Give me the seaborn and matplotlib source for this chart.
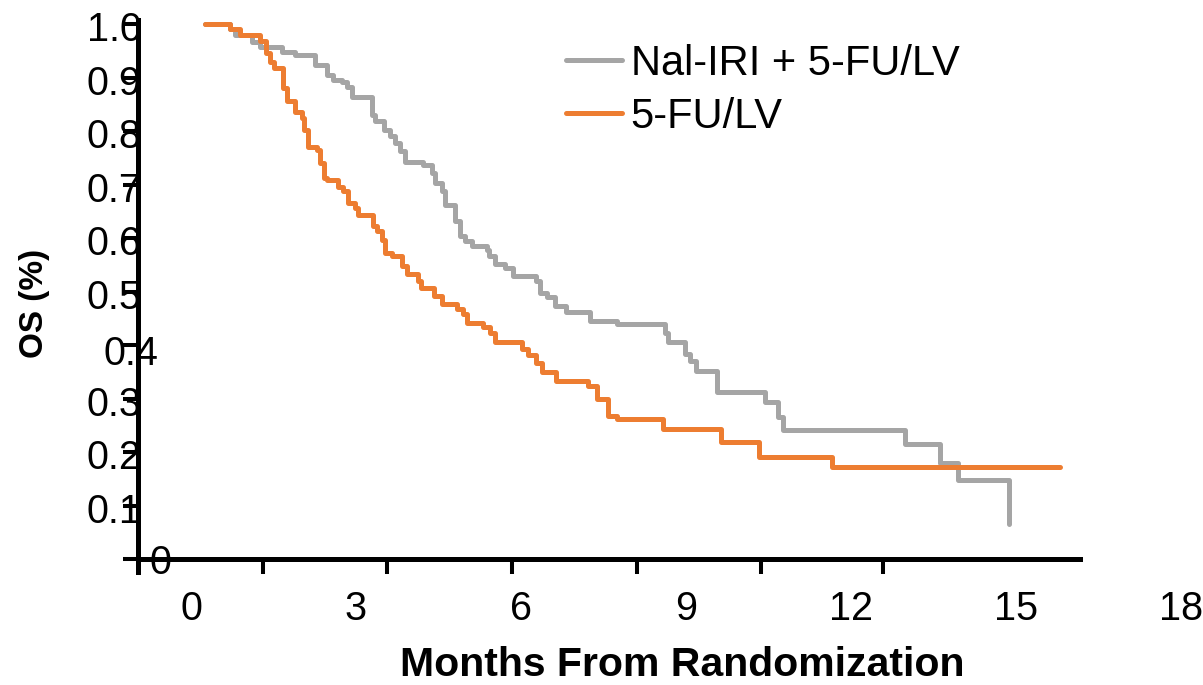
import numpy as np
import pandas as pd
import seaborn as sns
import matplotlib.pyplot as plt

# Kaplan-Meier OS
arms = ['Nal-IRI + 5-FU/LV', '5-FU/LV']

nal_months = [0.25, 0.71, 0.80, 1.11, 1.25, 1.65, 1.89, 2.25, 2.47, 2.59, 2.74, 2.83, 2.92,
              3.29, 3.35, 3.50, 3.62, 3.71, 3.80, 3.89, 4.22, 4.38, 4.44, 4.56, 4.62, 4.80,
              4.89, 4.98, 5.10, 5.38, 5.41, 5.53, 5.71, 5.86, 6.28, 6.35, 6.47, 6.62, 6.82,
              7.25, 7.74, 8.62, 8.68, 8.98, 9.07, 9.19, 9.57, 10.44, 10.68, 10.76, 12.98,
              13.62, 13.95, 14.88]
nal_surv = [1.0, 0.991, 0.979, 0.967, 0.957, 0.948, 0.942, 0.923, 0.904, 0.895, 0.892, 0.883, 0.864,
            0.830, 0.818, 0.802, 0.790, 0.777, 0.762, 0.743, 0.737, 0.721, 0.703, 0.687, 0.662, 0.631,
            0.603, 0.594, 0.585, 0.578, 0.566, 0.551, 0.544, 0.529, 0.520, 0.498, 0.489, 0.473, 0.461,
            0.444, 0.439, 0.423, 0.405, 0.383, 0.371, 0.352, 0.313, 0.293, 0.265, 0.242, 0.215,
            0.179, 0.147, 0.066]

fu_months = [0.25, 0.71, 0.89, 1.25, 1.36, 1.44, 1.50, 1.67, 1.74, 1.89, 2.01, 2.05, 2.13, 2.29,
             2.35, 2.41, 2.47, 2.68, 2.77, 2.86, 2.98, 3.04, 3.31, 3.38, 3.47, 3.53, 3.65, 3.83,
             3.92, 4.13, 4.19, 4.41, 4.56, 4.83, 4.95, 5.01, 5.31, 5.44, 5.53, 6.01, 6.13, 6.27,
             6.38, 6.64, 7.22, 7.38, 7.59, 7.74, 8.58, 9.63, 10.32, 11.65, 15.8]
fu_surv = [1.0, 0.990, 0.980, 0.968, 0.945, 0.929, 0.917, 0.880, 0.856, 0.836, 0.824, 0.802, 0.771, 0.765,
           0.740, 0.712, 0.709, 0.696, 0.687, 0.665, 0.656, 0.643, 0.622, 0.613, 0.597, 0.572, 0.566, 0.547,
           0.532, 0.520, 0.507, 0.492, 0.476, 0.467, 0.458, 0.442, 0.434, 0.423, 0.405, 0.392, 0.382, 0.367,
           0.349, 0.333, 0.324, 0.299, 0.268, 0.262, 0.243, 0.218, 0.191, 0.172, 0.172]

y_ticks = [0, 0.1, 0.2, 0.3, 0.4, 0.5, 0.6, 0.7, 0.8, 0.9, 1.0]
y_labels = ['0', '0.1', '0.2', '0.3', '0.4', '0.5', '0.6', '0.7', '0.8', '0.9', '1.0']
x_ticks = [0, 3, 6, 9, 12, 15, 18]
x_labels = ['0', '3', '6', '9', '12', '15', '18']

df = pd.concat([
    pd.DataFrame({'month': nal_months, 'surv': nal_surv, 'arm': arms[0]}),
    pd.DataFrame({'month': fu_months, 'surv': fu_surv, 'arm': arms[1]}),
])

sns.set_style('white')
plt.rcParams['font.family'] = ['Liberation Sans', 'DejaVu Sans']
plt.rcParams['text.color'] = 'black'

gray = '#A5A5A5'
orange = '#ED7D31'

fig = plt.figure(figsize=(12.03, 6.85), dpi=100)
ax = fig.add_axes([138 / 1203, 113 / 685, 942 / 1203, 552 / 685])

sns.lineplot(data=df, x='month', y='surv', hue='arm', hue_order=arms,
             palette=[gray, orange], drawstyle='steps-post', estimator=None,
             linewidth=3.6, ax=ax)

ax.set_xlim(-0.964, 16.164)
ax.set_ylim(-0.0243, 1.0075)
ax.set_xlabel('')
ax.set_ylabel('')

for s in ['top', 'right']:
    ax.spines[s].set_visible(False)
ax.spines['left'].set_linewidth(3.6)
ax.spines['left'].set_color('black')
ax.spines['bottom'].set_linewidth(3.6)
ax.spines['bottom'].set_color('black')
ax.spines['bottom'].set_position(('data', 0))

# the tick marks sit off the label grid, as in the source slide
ax.set_xticks([1.31, 3.56, 5.84, 8.11, 10.36, 12.58])
ax.set_xticklabels([])
ax.set_yticks(y_ticks)
ax.set_yticklabels([])
ax.tick_params(axis='both', direction='out', length=10.5, width=2.9, color='black',
               bottom=True, left=True)

# y labels overlap the axis line
y_offsets = {'0.4': (15, -3.5), '0': (8, 0)}
for val, lab in zip(y_ticks, y_labels):
    dx, dy = y_offsets.get(lab, (2.5, -1.5))
    ax.annotate(lab, xy=(0, val), xycoords=('axes fraction', 'data'),
                xytext=(dx, dy), textcoords='offset points',
                ha='left' if lab == '0' else 'right', va='center_baseline',
                fontsize=28.5, color='black', annotation_clip=False)

for val, lab in zip(x_ticks, x_labels):
    ax.annotate(lab, xy=(val, 0), xycoords='data', xytext=(0, -33),
                textcoords='offset points', ha='center', va='center_baseline',
                fontsize=28.5, color='black', annotation_clip=False)

fig.text(35 / 1203, 1 - 303 / 685, 'OS (%)', rotation=90, ha='center', va='center',
         fontsize=24, fontweight='bold', color='black')
fig.text(682 / 1203, 1 - 665 / 685, 'Months From Randomization', ha='center', va='center',
         fontsize=29.5, fontweight='bold', color='black')

leg = ax.legend(loc='upper left', bbox_to_anchor=(566 / 1203, 1 - 44 / 685),
                bbox_transform=fig.transFigure, frameon=False, fontsize=30,
                handlelength=1.35, handletextpad=0.2, labelspacing=0.3,
                borderpad=0, borderaxespad=0)
for t in leg.get_texts():
    t.set_color('black')

fig.savefig('out.png', dpi=100)
